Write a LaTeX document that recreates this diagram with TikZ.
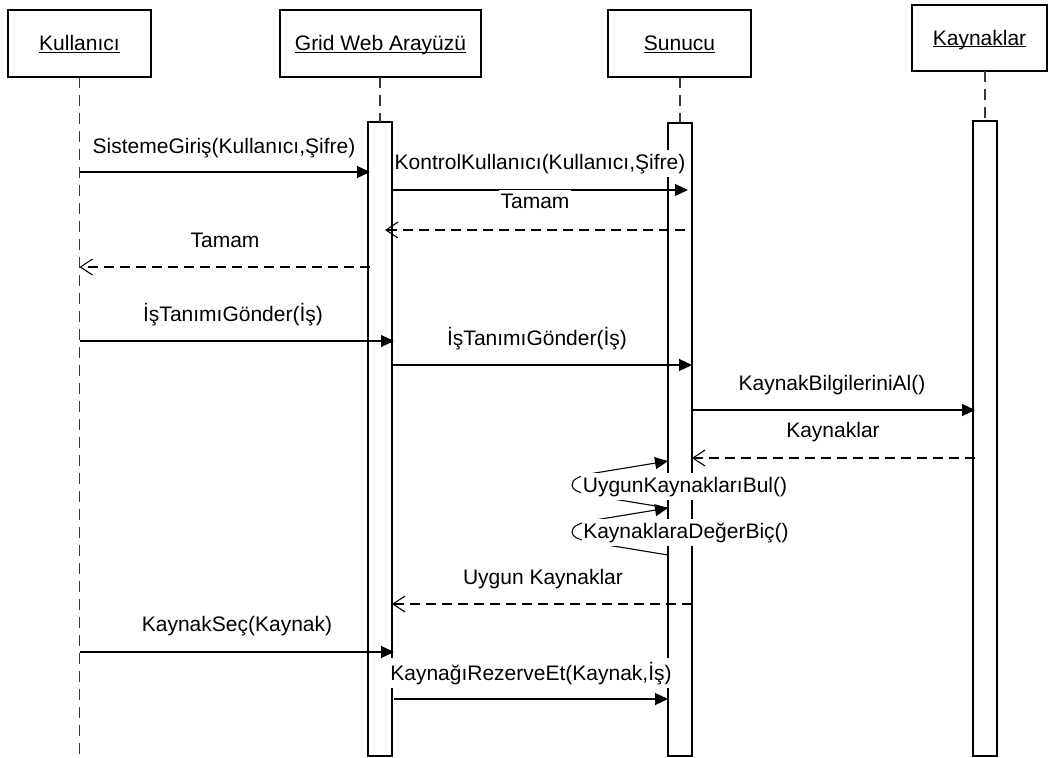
\documentclass[tikz,border=0pt]{standalone}
\usepackage{fontspec}
\setmainfont{Liberation Sans}
\usetikzlibrary{arrows.meta,calc}
% underlined object name, rule at a fixed depth below the baseline
\newcommand\hdrtxt[1]{\setbox0=\hbox{#1}\rlap{\copy0}\rule[-2.4pt]{\wd0}{1.1pt}}
\begin{document}
\begin{tikzpicture}[x=1pt,y=-1pt,
  every node/.style={font=\fontsize{21}{25}\selectfont, inner sep=0pt, outer sep=0pt},
  objbox/.style={draw, line width=1.1pt, text height=15pt, text depth=1pt},
  actbar/.style={draw, fill=white, line width=1.1pt, minimum width=24pt},
  lifeline/.style={draw=black!78, line width=1.1pt, dash pattern=on 11pt off 7pt},
  callmsg/.style={line width=1.1pt, -{Triangle[length=13pt,width=12pt]}},
  retmsg/.style={line width=1.1pt, dash pattern=on 10pt off 6pt,
                 -{Straight Barb[length=12pt,width=16pt]}},
  msglabel/.style={fill=white, inner xsep=1.5pt, inner ysep=4pt, anchor=base},
]
\useasboundingbox (0,0) rectangle (1050,758);

% objects
\node[objbox, minimum width=143pt, minimum height=67pt] (kul) at (79.5,43.5) {\hdrtxt{Kullanıcı}};
\node[objbox, minimum width=201pt, minimum height=67pt] (gwa) at (380.5,43.5) {\hdrtxt{Grid Web Arayüzü}};
\node[objbox, minimum width=143pt, minimum height=67pt] (sun) at (679.5,43.5) {\hdrtxt{Sunucu}};
\node[objbox, minimum width=135pt, minimum height=66pt] (kay) at (979.5,38) {\hdrtxt{Kaynaklar}};

% activation bars
\node[actbar, minimum height=634pt] (gwbar) at (380,439) {};
\node[actbar, minimum height=633pt] (sbar) at (680,439.5) {};
\node[actbar, minimum height=635pt] (kbar) at (985,438.5) {};

% lifelines
\draw[lifeline] (kul.south) -- (kul.south |- 0,758);
\draw[lifeline] (gwbar.north |- gwa.south) -- (gwbar.north);
\draw[lifeline] (sbar.north |- sun.south) -- (sbar.north);
\draw[lifeline] (kbar.north |- kay.south) -- (kbar.north);

% messages
\draw[callmsg] (kul.south |- 0,172) -- ($(gwbar.west |- 0,172)+(2,0)$);
\draw[callmsg] (gwbar.east |- 0,190) -- ($(sbar.center |- 0,190)+(8,0)$);
\draw[retmsg] ($(sbar.center |- 0,230)+(5,0)$) -- ($(gwbar.center |- 0,230)+(5,0)$);
\draw[retmsg] ($(gwbar.west |- 0,267)+(2,0)$) -- (kul.south |- 0,267);
\draw[callmsg] (kul.south |- 0,341) -- ($(gwbar.east |- 0,341)+(2,0)$);
\draw[callmsg] (gwbar.east |- 0,365) -- (sbar.east |- 0,365);
\draw[callmsg] (sbar.east |- 0,410) -- ($(kbar.west |- 0,410)+(2,0)$);
\draw[retmsg] ($(kbar.west |- 0,458)+(2,0)$) -- (sbar.east |- 0,458);

% self calls on the server
\draw[callmsg] (sbar.west |- 0,508) -- (595,496)
  .. controls (579,493) and (572,490) .. (572,485)
  .. controls (572,479) and (579,476) .. (595,473) -- (sbar.west |- 0,461);
\draw[callmsg] (sbar.west |- 0,555) -- (595,543)
  .. controls (579,540) and (572,537) .. (572,532)
  .. controls (572,526) and (579,523) .. (595,520) -- (sbar.west |- 0,508);

\draw[retmsg] (sbar.east |- 0,604) -- (gwbar.east |- 0,604);
\draw[callmsg] (kul.south |- 0,652) -- ($(gwbar.east |- 0,652)+(2,0)$);
\draw[callmsg] ($(gwbar.east |- 0,699)+(2,0)$) -- (sbar.west |- 0,699);

% message labels
\node[msglabel] (t1) at (224,153) {SistemeGiriş(Kullanıcı,Şifre)};
\node[msglabel] (t2) at (540,169) {KontrolKullanıcı(Kullanıcı,Şifre)};
\node[msglabel] (t3) at (535,208) {Tamam};
\node[msglabel] (t4) at (225,247) {Tamam};
\node[msglabel] (t5) at (233,321) {İşTanımıGönder(İş)};
\node[msglabel] (t6) at (537,345) {İşTanımıGönder(İş)};
\node[msglabel] (t7) at (832,390) {KaynakBilgileriniAl()};
\node[msglabel] (t8) at (833,437) {Kaynaklar};
\node[msglabel] (t9) at (685,492) {UygunKaynaklarıBul()};
\node[msglabel] (t10) at (686,538) {KaynaklaraDeğerBiç()};
\node[msglabel] (t11) at (543,584) {Uygun Kaynaklar};
\node[msglabel] (t12) at (237,631) {KaynakSeç(Kaynak)};
\node[msglabel] (t13) at (531,680) {KaynağıRezerveEt(Kaynak,İş)};
\end{tikzpicture}
\end{document}
